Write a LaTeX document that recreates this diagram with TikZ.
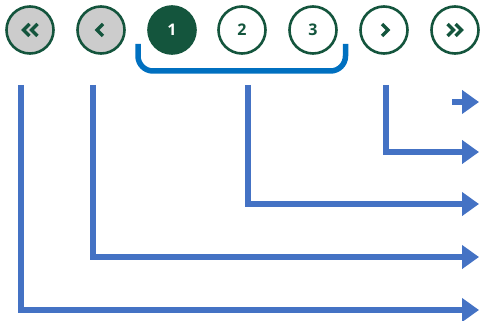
\documentclass[tikz,border=0pt]{standalone}
\usepackage{fontspec}
\setmainfont{Open Sans}
\usetikzlibrary{arrows.meta}
\definecolor{pgreen}{HTML}{14553D}
\definecolor{pgrey}{HTML}{CCCCCC}
\definecolor{brblue}{HTML}{0070C0}
\definecolor{arblue}{HTML}{4472C4}
\tikzset{
  pbtn/.style={circle, draw=pgreen, line width=2.6pt, minimum size=47pt, inner sep=0pt,
    font=\fontsize{16pt}{16pt}\selectfont\bfseries, text=pgreen},
  navbtn/.style={pbtn, fill=pgrey},
  curbtn/.style={pbtn, fill=pgreen, text=white},
  plainbtn/.style={pbtn, fill=white},
  chev/.style={draw=pgreen, line width=3.4pt, line cap=butt, line join=miter},
  bracket/.style={draw=brblue, line width=5.5pt, rounded corners=15pt},
  callout/.style={draw=arblue, line width=6pt, line join=miter, -{Triangle[width=23pt,length=17pt]}}
}
\begin{document}
\begin{tikzpicture}[x=1pt,y=-1pt]
\useasboundingbox (0,0) rectangle (480,321);
\node[navbtn] (first) at (30,30) {};
\node[navbtn] (prev) at (101,30) {};
\node[curbtn] (p1) at (172,30) {1};
\node[plainbtn] (p2) at (242,30) {2};
\node[plainbtn] (p3) at (313,30) {3};
\node[plainbtn] (next) at (384,30) {};
\node[plainbtn] (last) at (455,30) {};
% chevrons
\draw[chev] ([xshift=-0.5pt,yshift=6pt]first.center) -- ++(-6,6) -- ++(6,6);
\draw[chev] ([xshift=7.5pt,yshift=6pt]first.center) -- ++(-6,6) -- ++(6,6);
\draw[chev] ([xshift=2pt,yshift=6pt]prev.center) -- ++(-6,6) -- ++(6,6);
\draw[chev] ([xshift=-2pt,yshift=6pt]next.center) -- ++(6,6) -- ++(-6,6);
\draw[chev] ([xshift=-7.5pt,yshift=6pt]last.center) -- ++(6,6) -- ++(-6,6);
\draw[chev] ([xshift=0.5pt,yshift=6pt]last.center) -- ++(6,6) -- ++(-6,6);
% bracket
\coordinate (bl) at (138,44);
\coordinate (br) at (345.5,44);
\draw[bracket] (bl) |- (241,71) -| (br);
% callout lines
\coordinate (s1) at (21,85);  \coordinate (e1) at (479,310);
\coordinate (s2) at (92.5,85); \coordinate (e2) at (479,257);
\coordinate (s3) at (248,85); \coordinate (e3) at (479,204);
\coordinate (s4) at (385.5,85); \coordinate (e4) at (479,152);
\coordinate (s5) at (452,102); \coordinate (e5) at (479,102);
\draw[callout] (s1) |- (e1);
\draw[callout] (s2) |- (e2);
\draw[callout] (s3) |- (e3);
\draw[callout] (s4) |- (e4);
\draw[callout] (s5) -- (e5);
\end{tikzpicture}
\end{document}
